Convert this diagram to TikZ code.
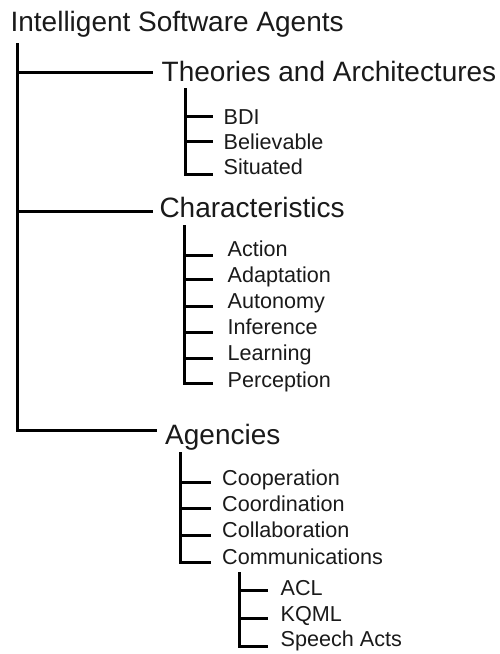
\documentclass[tikz,border=0pt]{standalone}
\usepackage{fontspec}
\setmainfont{Liberation Sans}
\definecolor{txt}{HTML}{1A1A1A}
\begin{document}
\begin{tikzpicture}[x=1pt,y=-1pt,
  lbl/.style={inner sep=0pt,anchor=base west,text=txt},
  big/.style={lbl,font=\fontsize{28}{32}\selectfont},
  small/.style={lbl,font=\fontsize{21.6}{24}\selectfont},
  tree/.style={line width=3pt,line cap=butt,line join=miter,draw=black}]
\useasboundingbox[fill=white] (0,0) rectangle (500,654);

% root
\node[big] (root) at (10.4,31.5) {Intelligent Software Agents};
\coordinate (sp0) at (17,43);

% level 1
\node[big] (th) at (161.5,81) {Theories and Architectures};
\node[big] (ch) at (159.3,217.7) {Characteristics};
\node[big] (ag) at (165,444) {Agencies};
\coordinate (thE) at (153,72);
\coordinate (chE) at (153,211);
\coordinate (agE) at (157,430);
\draw[tree] (sp0) |- (thE);
\draw[tree] (sp0) |- (chE);
\draw[tree] (sp0) |- (agE);

% Theories group
\coordinate (sp1) at (185,88);
\node[small] (bdi) at (223.5,124) {BDI};
\node[small] (bel) at (223.5,149) {Believable};
\node[small] (sit) at (223.5,174) {Situated};
\coordinate (bdiE) at (213,116);
\coordinate (belE) at (213,141);
\coordinate (sitE) at (213,174);
\draw[tree] (sp1) |- (bdiE);
\draw[tree] (sp1) |- (belE);
\draw[tree] (sp1) |- (sitE);

% Characteristics group
\coordinate (sp2) at (184,225);
\node[small] (act) at (227.5,256) {Action};
\node[small] (ada) at (227.5,282) {Adaptation};
\node[small] (aut) at (227.5,308.5) {Autonomy};
\node[small] (inf) at (227.5,334.5) {Inference};
\node[small] (lea) at (227.5,360.5) {Learning};
\node[small] (per) at (227.5,387) {Perception};
\coordinate (actE) at (213,255);
\coordinate (adaE) at (213,279);
\coordinate (autE) at (213,306);
\coordinate (infE) at (213,332);
\coordinate (leaE) at (213,358);
\coordinate (perE) at (213,383);
\draw[tree] (sp2) |- (actE);
\draw[tree] (sp2) |- (adaE);
\draw[tree] (sp2) |- (autE);
\draw[tree] (sp2) |- (infE);
\draw[tree] (sp2) |- (leaE);
\draw[tree] (sp2) |- (perE);

% Agencies group
\coordinate (sp3) at (180,452);
\node[small] (coo) at (222,485) {Cooperation};
\node[small] (cor) at (222,511) {Coordination};
\node[small] (col) at (222,537.5) {Collaboration};
\node[small] (com) at (222,564) {Communications};
\coordinate (cooE) at (211,482.5);
\coordinate (corE) at (211,508);
\coordinate (colE) at (211,535);
\coordinate (comE) at (211,562);
\draw[tree] (sp3) |- (cooE);
\draw[tree] (sp3) |- (corE);
\draw[tree] (sp3) |- (colE);
\draw[tree] (sp3) |- (comE);

% Communications group
\coordinate (sp4) at (239,572);
\node[small] (acl) at (280.5,595) {ACL};
\node[small] (kqm) at (280.5,621) {KQML};
\node[small] (spa) at (280.5,646) {Speech Acts};
\coordinate (aclE) at (268,590);
\coordinate (kqmE) at (268,618);
\coordinate (spaE) at (268,646.5);
\draw[tree] (sp4) |- (aclE);
\draw[tree] (sp4) |- (kqmE);
\draw[tree] (sp4) |- (spaE);
\end{tikzpicture}
\end{document}
